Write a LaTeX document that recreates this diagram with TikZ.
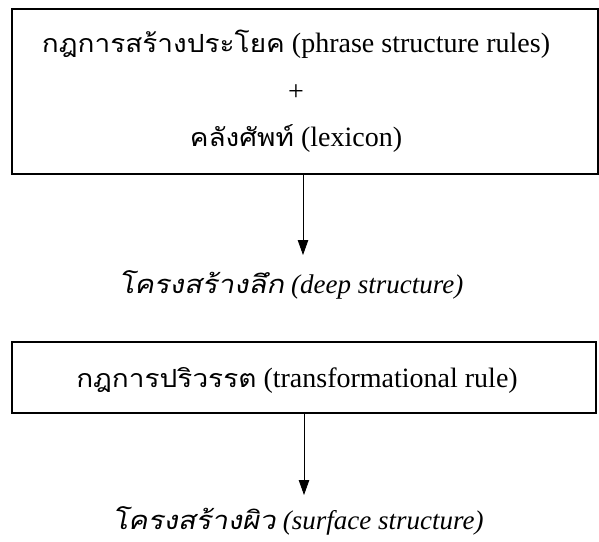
\documentclass[tikz,border=0pt]{standalone}
\usepackage{fontspec}
\setmainfont{Liberation Serif}
\newfontfamily\thaifam[Script=Thai,FakeStretch=1.12]{Loma}
\newfontfamily\thaiitfam[Script=Thai,FakeSlant=0.2,FakeStretch=1.15]{Loma}
\newfontfamily\latitfam{Liberation Serif Italic}
\newcommand\thaiup{\thaifam\fontsize{25}{28}\selectfont}
\newcommand\thaiit{\thaiitfam\fontsize{25.5}{28}\selectfont}
\newcommand\latit{\latitfam\fontsize{27}{29}\selectfont}
\usetikzlibrary{arrows.meta}
\begin{document}
\begin{tikzpicture}[x=1pt,y=-1pt,
  box/.style={draw, line width=1.5pt, inner sep=0pt},
  txt/.style={inner sep=0pt, font=\fontsize{28}{30}\selectfont},
  conn/.style={line width=0.8pt, -{Triangle[length=15pt,width=10.5pt]}}]
\useasboundingbox (0,0) rectangle (599,541);
\node[box, minimum width=586pt, minimum height=165pt] (b1) at (305,91.5) {};
\node[txt] (l1) at (296,44) {{\thaiup กฎการสร้างประโยค} (phrase structure rules)};
\node[txt] (l2) at (296,93) {+};
\node[txt] (l3) at (296,139) {{\thaiup คลังศัพท์} (lexicon)};
\coordinate (a1) at (303,255);
\draw[conn] (b1.south -| a1) -- (a1);
\node[txt] (d1) at (291,285) {{\thaiit โครงสร้างลึก} {\latit (deep structure)}};
\node[box, minimum width=584pt, minimum height=71pt] (b2) at (304,377.5) {};
\node[txt] (t1) at (297,380) {{\thaiup กฎการปริวรรต} (transformational rule)};
\coordinate (a2) at (304,495);
\draw[conn] (b2.south -| a2) -- (a2);
\node[txt] (s1) at (298,521) {{\thaiit โครงสร้างผิว} {\latit (surface structure)}};
\end{tikzpicture}
\end{document}
